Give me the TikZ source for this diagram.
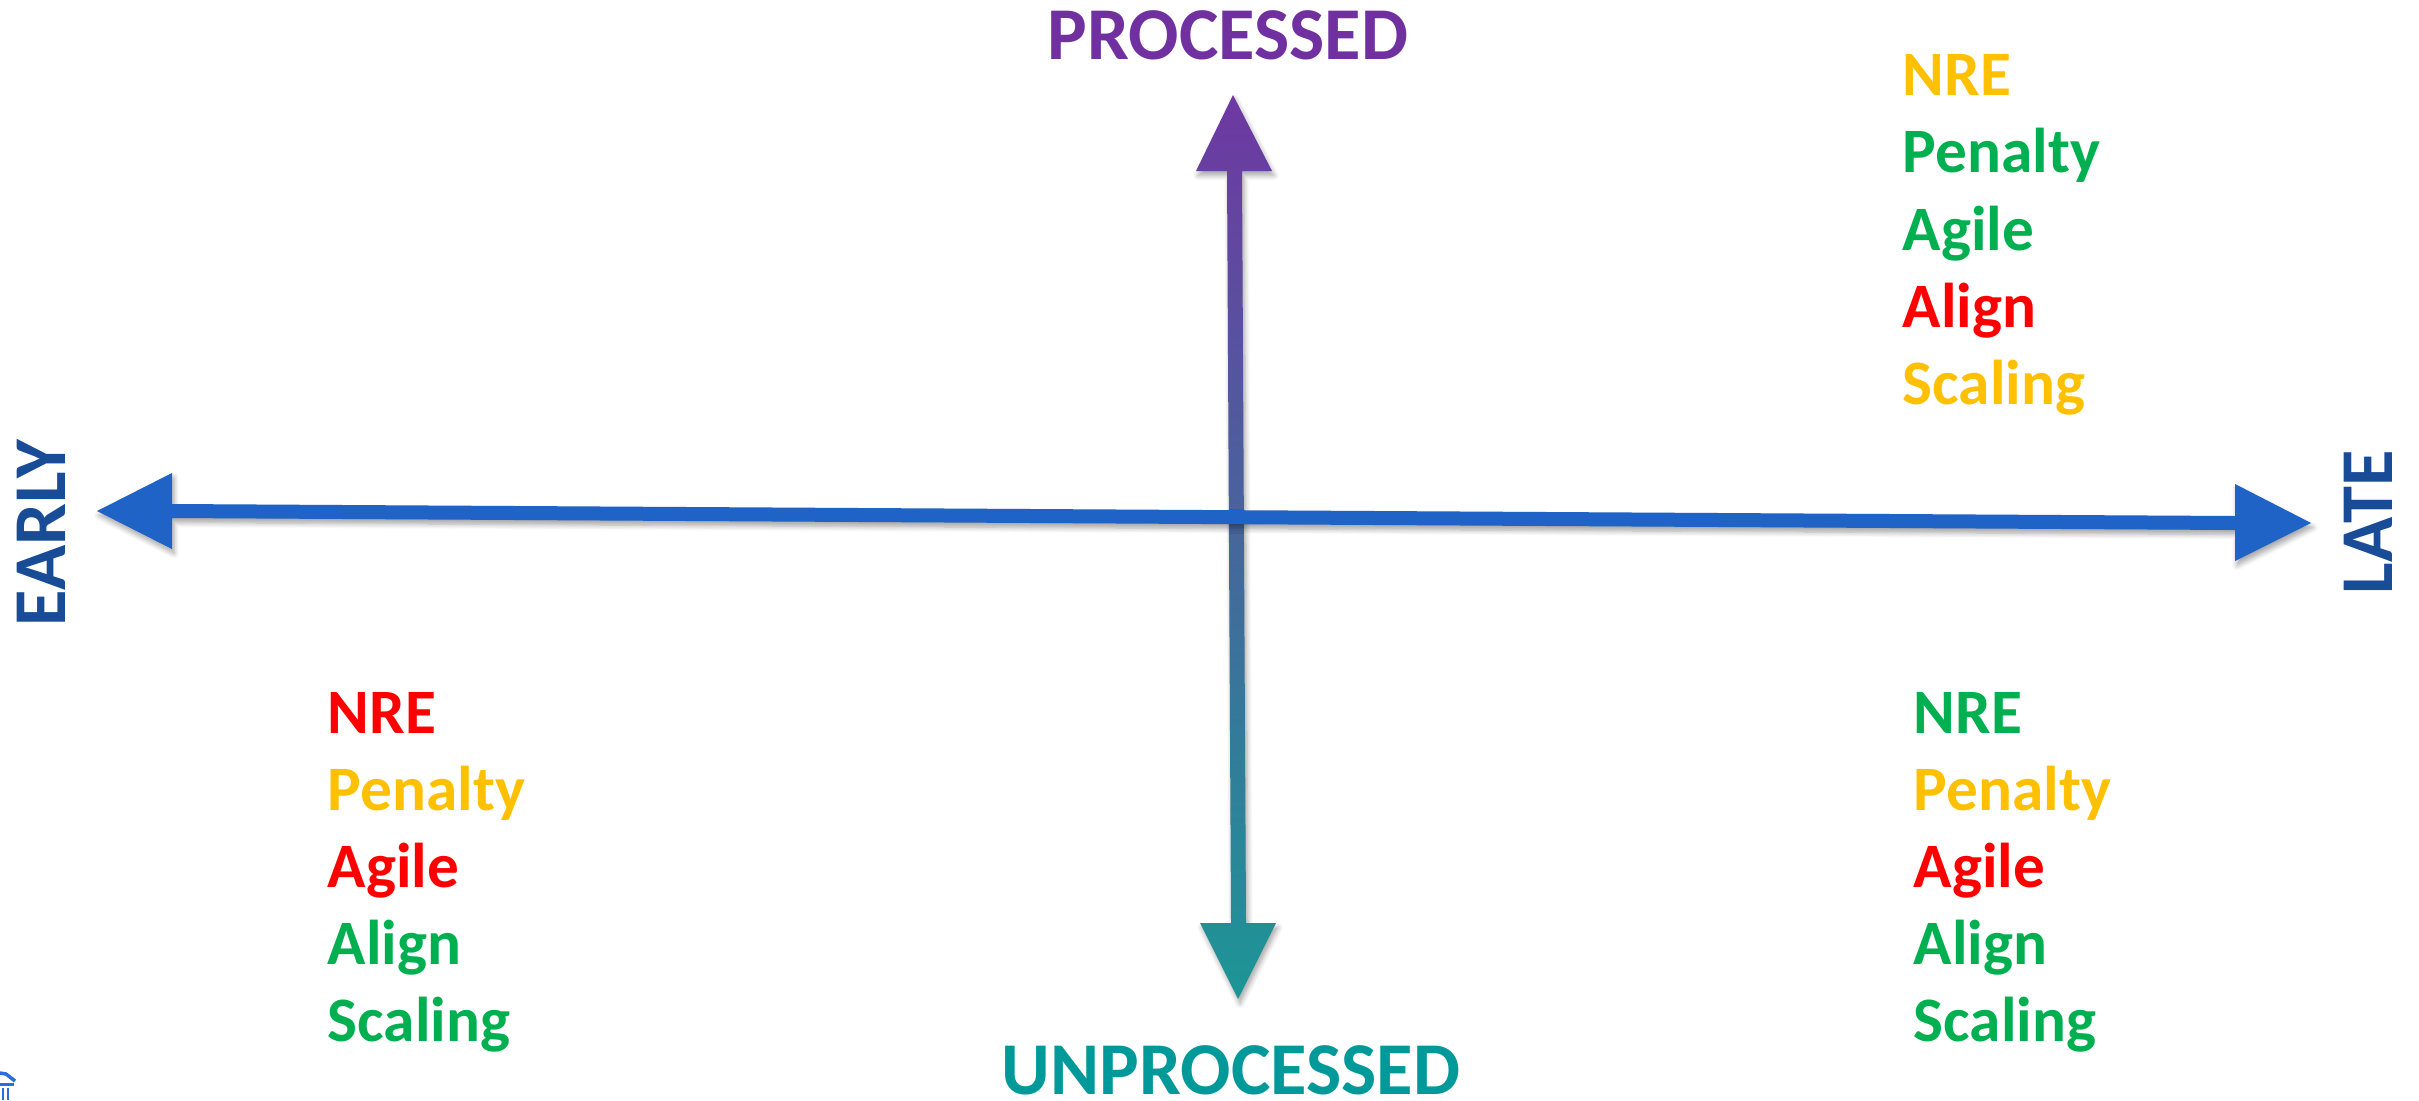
\documentclass[tikz,border=0pt]{standalone}
\usepackage{fontspec}
\setmainfont{Carlito}
\usetikzlibrary{shadows.blur}

\definecolor{axisblue}{RGB}{31,99,198}
\definecolor{labelblue}{RGB}{25,76,150}
\definecolor{procpurple}{RGB}{112,48,160}
\definecolor{unproc}{RGB}{0,153,153}
\definecolor{vtop}{RGB}{110,56,162}
\definecolor{vbot}{RGB}{28,150,150}
\definecolor{cyellow}{RGB}{255,192,0}
\definecolor{cgreen}{RGB}{0,176,80}
\definecolor{cred}{RGB}{255,0,0}
\definecolor{logoblue}{RGB}{40,110,220}

\tikzset{
  axisshadow/.style={blur shadow={shadow xshift=0.02cm, shadow yshift=-0.045cm,
      shadow blur steps=6, shadow blur radius=0.05cm, shadow opacity=35}},
  biglabel/.style={inner sep=0pt, font=\bfseries\fontsize{21.2pt}{24pt}\selectfont},
  item/.style={inner sep=0pt, anchor=base west, font=\bfseries\fontsize{18pt}{22pt}\selectfont},
}

\begin{document}
\begin{tikzpicture}[x=0.01cm, y=-0.01cm]
\useasboundingbox (0,0) rectangle (2419,1100);

% vertical axis: processed (top) to unprocessed (bottom), shaded
\coordinate (vtip) at (1233,95);
\coordinate (vend) at (1238,999);
\path[axisshadow, top color=vtop, bottom color=vbot]
  (vtip) -- (1272,171) -- (1242,171) -- (1246,923) -- (1276,923) -- (vend)
  -- (1200,923) -- (1231,923) -- (1227,171) -- (1196,171) -- cycle;

% horizontal axis: early (left) to late (right)
\coordinate (htip) at (97,511);
\coordinate (hend) at (2311,523);
\fill[axisblue, axisshadow]
  (htip) -- (172,473) -- (172,504) -- (2235,516) -- (2235,484) -- (hend)
  -- (2235,561) -- (2235,530) -- (172,518) -- (172,549) -- cycle;

% axis labels
\node[biglabel, text=procpurple] (proc) at (1228,35) {PROCESSED};
\node[biglabel, text=unproc] (unproc) at (1231,1070) {UNPROCESSED};
\node[biglabel, text=labelblue, rotate=90] (early) at (41.5,533) {EARLY};
\node[biglabel, text=labelblue, rotate=90] (late) at (2368,522) {LATE};

% processed / late quadrant
\node[item, text=cyellow] (trA) at (1902,95)  {NRE};
\node[item, text=cgreen]  (trB) at (1902,172) {Penalty};
\node[item, text=cgreen]  (trC) at (1902,250) {Agile};
\node[item, text=cred]    (trD) at (1902,327) {Align};
\node[item, text=cyellow] (trE) at (1902,404) {Scaling};

% unprocessed / early quadrant
\node[item, text=cred]    (blA) at (327,733)  {NRE};
\node[item, text=cyellow] (blB) at (327,810)  {Penalty};
\node[item, text=cred]    (blC) at (327,887)  {Agile};
\node[item, text=cgreen]  (blD) at (327,964)  {Align};
\node[item, text=cgreen]  (blE) at (327,1041) {Scaling};

% unprocessed / late quadrant
\node[item, text=cgreen]  (brA) at (1913,733)  {NRE};
\node[item, text=cyellow] (brB) at (1913,810)  {Penalty};
\node[item, text=cred]    (brC) at (1913,887)  {Agile};
\node[item, text=cgreen]  (brD) at (1913,964)  {Align};
\node[item, text=cgreen]  (brE) at (1913,1041) {Scaling};

% corner emblem fragment
\draw[logoblue, line width=0.035cm] (0,1073) -- (6,1074) -- (15,1081);
\draw[logoblue, line width=0.03cm] (0,1084) -- (14,1084);
\draw[logoblue, line width=0.025cm] (3,1088) -- (3,1100) (8,1088) -- (8,1100);
\end{tikzpicture}
\end{document}
